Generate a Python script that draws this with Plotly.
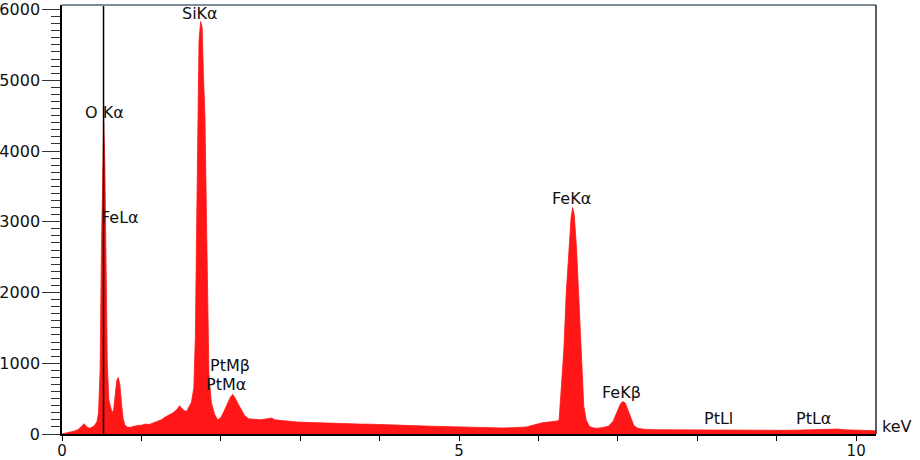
import plotly.graph_objects as go

# EDS spectrum (energy in keV, counts)
energy_kev = [
    0.00, 0.05, 0.10, 0.15, 0.20, 0.25, 0.28, 0.31, 0.35, 0.40, 0.44, 0.46,
    0.48, 0.495, 0.51, 0.525, 0.54, 0.555, 0.57, 0.59, 0.61, 0.63, 0.65, 0.67,
    0.69, 0.71, 0.73, 0.75, 0.77, 0.79, 0.82, 0.86, 0.90, 0.95, 1.00, 1.05,
    1.10, 1.15, 1.20, 1.25, 1.30, 1.35, 1.40, 1.45, 1.48, 1.51, 1.54, 1.57,
    1.60, 1.63, 1.66, 1.68, 1.695, 1.71, 1.725, 1.745, 1.765, 1.78, 1.80, 1.82,
    1.835, 1.85, 1.88, 1.92, 1.96, 2.00, 2.04, 2.08, 2.12, 2.15, 2.18, 2.22,
    2.26, 2.30, 2.35, 2.40, 2.45, 2.50, 2.55, 2.60, 2.64, 2.68, 2.75, 2.85,
    2.95, 3.05, 3.15, 3.30, 3.45, 3.60, 3.75, 3.90, 4.05, 4.20, 4.35, 4.50,
    4.65, 4.80, 4.95, 5.10, 5.25, 5.40, 5.55, 5.70, 5.85, 5.95, 6.00, 6.05,
    6.10, 6.15, 6.20, 6.24, 6.26, 6.29, 6.32, 6.35, 6.38, 6.41, 6.43, 6.45,
    6.48, 6.51, 6.54, 6.57, 6.60, 6.64, 6.68, 6.73, 6.80, 6.88, 6.94, 6.99,
    7.03, 7.06, 7.09, 7.12, 7.16, 7.20, 7.25, 7.35, 7.50, 7.70, 7.90, 8.10,
    8.30, 8.50, 8.70, 8.90, 9.10, 9.30, 9.50, 9.65, 9.76, 9.85, 10.00, 10.10,
    10.25,
]
counts = [
    0, 10, 30, 40, 60, 120, 145, 100, 80, 110, 170, 300,
    900, 2500, 3700, 4420, 3800, 2200, 1000, 480, 400, 300, 340, 560,
    760, 800, 680, 420, 220, 130, 100, 95, 110, 120, 125, 140,
    135, 155, 170, 200, 240, 270, 300, 350, 400, 360, 330, 320,
    380, 450, 650, 1400, 2900, 4500, 5550, 5830, 5750, 5100, 4500, 3000,
    1700, 850, 450, 280, 200, 230, 320, 430, 520, 560, 510, 420,
    330, 260, 215, 210, 205, 200, 210, 215, 225, 200, 190, 180,
    170, 165, 160, 155, 150, 145, 140, 138, 130, 125, 120, 115,
    110, 105, 100, 95, 90, 85, 85, 90, 100, 130, 150, 160,
    165, 170, 175, 185, 200, 650, 1200, 2000, 2600, 3050, 3200, 3100,
    2600, 1800, 950, 400, 200, 110, 90, 80, 90, 110, 180, 300,
    420, 460, 440, 360, 230, 120, 80, 65, 60, 58, 56, 55,
    60, 55, 54, 53, 52, 55, 58, 62, 70, 60, 52, 50,
    45,
]

# peak labels
peak_names = ["O K\u03b1", "FeL\u03b1", "SiK\u03b1", "PtM\u03b2", "PtM\u03b1",
              "FeK\u03b1", "FeK\u03b2", "PtLl", "PtL\u03b1"]
peak_x = [0.535, 0.724, 1.74, 2.116, 2.066, 6.417, 7.047, 8.262, 9.458]
peak_y = [4545, 3060, 5950, 965, 695, 3330, 580, 225, 225]

marker_kev = 0.523

fig = go.Figure()
fig.add_trace(go.Scatter(
    x=energy_kev, y=counts, mode="lines",
    line=dict(color="rgb(255,22,22)", width=0.8),
    fill="tozeroy", fillcolor="rgb(255,22,22)",
    hoverinfo="x+y", showlegend=False,
))

for name, px_, py_ in zip(peak_names, peak_x, peak_y):
    fig.add_annotation(x=px_, y=py_, text=name, showarrow=False,
                       font=dict(family="DejaVu Sans", size=16, color="#111111"))

fig.add_annotation(x=1.0, y=113, xref="paper", yref="y", text="keV",
                   xanchor="left", xshift=4, showarrow=False,
                   font=dict(family="DejaVu Sans", size=16, color="#111111"))

# vertical marker line, top border, right border
fig.add_shape(type="line", xref="x", yref="paper", x0=marker_kev, x1=marker_kev,
              y0=0, y1=1, line=dict(color="black", width=1.5))
fig.add_shape(type="line", xref="paper", yref="paper", x0=0, x1=1, y0=1, y1=1,
              line=dict(color="#7d8e98", width=2))
fig.add_shape(type="line", xref="paper", yref="paper", x0=1, x1=1, y0=0, y1=1,
              line=dict(color="#1e2a30", width=1.5))

fig.update_layout(
    width=920, height=460,
    margin=dict(l=62, r=44, t=5, b=26),
    paper_bgcolor="white", plot_bgcolor="white",
    font=dict(family="DejaVu Sans", size=15, color="#111111"),
)
fig.update_xaxes(
    range=[0, 10.25], showgrid=False, zeroline=False, automargin=False,
    showline=True, linecolor="black", linewidth=1.5,
    ticks="outside", tickmode="array", tickvals=[0, 5, 10], ticklen=5,
    tickcolor="black", tickfont=dict(size=15), ticklabelstandoff=-3,
    minor=dict(dtick=1, tick0=0, ticks="outside", ticklen=5, tickcolor="black"),
)
fig.update_yaxes(
    range=[0, 6064], showgrid=False, zeroline=False, automargin=False,
    showline=True, linecolor="black", linewidth=1.5,
    ticks="outside", dtick=1000, ticklen=18, tickcolor="#333333",
    tickfont=dict(size=16), ticklabelstandoff=-1,
    minor=dict(dtick=100, ticks="outside", ticklen=9, tickcolor="#333333"),
)

# drop the browser's default page margin so the figure sits at the top-left corner
fig.write_html("out.html", config={"displayModeBar": False},
               post_script="document.body.style.margin = '0';")
